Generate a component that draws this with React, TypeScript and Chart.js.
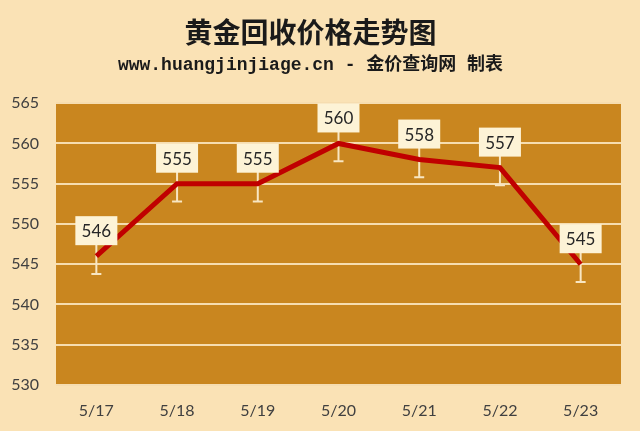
import React, { useEffect, useRef } from "react";
import { Chart, registerables } from "chart.js";

Chart.register(...registerables);

const dates = ["5/17", "5/18", "5/19", "5/20", "5/21", "5/22", "5/23"];
const prices = [546, 555, 555, 560, 558, 557, 545];
const errDown = [2.2, 2.2, 2.2, 2.2, 2.2, 2.2, 2.2];

const title = "黄金回收价格走势图";
const subtitle = "www.huangjinjiage.cn - 金价查询网 制表";

const FONT = "Lato, 'Open Sans', 'Noto Sans', sans-serif";

// orange plot background
const plotBg = {
  id: "plotBg",
  beforeDraw(chart: any) {
    const { ctx, chartArea } = chart;
    ctx.save();
    ctx.fillStyle = "#c9861f";
    ctx.fillRect(chartArea.left, chartArea.top, chartArea.right - chartArea.left, chartArea.bottom - chartArea.top);
    ctx.restore();
  },
};

// error bars behind the line, value boxes on top
const errorBars = {
  id: "errorBars",
  beforeDatasetsDraw(chart: any) {
    const { ctx } = chart;
    const y = chart.scales.y;
    const meta = chart.getDatasetMeta(0);
    ctx.save();
    ctx.strokeStyle = "#f8e6c2";
    ctx.lineWidth = 2;
    meta.data.forEach((pt: any, i: number) => {
      const top = y.getPixelForValue(prices[i] + errDown[i]);
      const bot = y.getPixelForValue(prices[i] - errDown[i]);
      ctx.beginPath();
      ctx.moveTo(pt.x, top);
      ctx.lineTo(pt.x, bot);
      ctx.moveTo(pt.x - 5, bot);
      ctx.lineTo(pt.x + 5, bot);
      ctx.stroke();
    });
    ctx.restore();
  },
  afterDatasetsDraw(chart: any) {
    const { ctx } = chart;
    const meta = chart.getDatasetMeta(0);
    ctx.save();
    ctx.font = "17px " + FONT;
    ctx.textAlign = "center";
    ctx.textBaseline = "middle";
    meta.data.forEach((pt: any, i: number) => {
      const w = 42;
      const h = 29;
      const bx = pt.x - w / 2;
      const by = pt.y - 11 - h;
      ctx.fillStyle = "#fdf3d6";
      ctx.fillRect(bx, by, w, h);
      ctx.fillStyle = "#262626";
      ctx.fillText(String(prices[i]), pt.x, by + h / 2 + 1);
    });
    ctx.restore();
  },
};

const App: React.FC = () => {
  const canvasRef = useRef<HTMLCanvasElement | null>(null);
  const chartRef = useRef<Chart | null>(null);

  useEffect(() => {
    document.body.style.margin = "0";
    if (!canvasRef.current) return;
    if (chartRef.current) chartRef.current.destroy();

    chartRef.current = new Chart(canvasRef.current, {
      type: "line",
      data: {
        labels: dates,
        datasets: [
          {
            label: "价格",
            data: prices,
            borderColor: "#c00000",
            borderWidth: 5,
            pointRadius: 0,
            tension: 0,
            fill: false,
          },
        ],
      },
      options: {
        responsive: true,
        maintainAspectRatio: false,
        animation: false,
        layout: { padding: { left: 0, right: 19, top: 0, bottom: 0 } },
        plugins: {
          legend: { display: false },
          tooltip: { enabled: false },
          title: {
            display: true,
            text: title,
            color: "#1a1a1a",
            font: { family: "'Noto Sans CJK SC'", size: 28, weight: "bold", lineHeight: 1.2 },
            padding: { top: 16, bottom: 5 },
          },
          subtitle: {
            display: true,
            text: subtitle,
            color: "#1a1a1a",
            font: { family: "'Liberation Mono', 'Noto Sans CJK SC'", size: 18, weight: "bold", lineHeight: 1.2 },
            padding: { top: 0, bottom: 27 },
          },
        },
        scales: {
          x: {
            offset: true,
            grid: { display: false, drawTicks: false },
            border: { display: false },
            ticks: { color: "#404040", font: { family: FONT, size: 16 }, padding: 16 },
            afterFit: (s: any) => {
              s.height = 46;
            },
          },
          y: {
            min: 530,
            max: 565,
            grid: { color: "#f6ddb0", lineWidth: 2, drawTicks: false },
            border: { display: false },
            ticks: { stepSize: 5, color: "#404040", font: { family: FONT, size: 16 }, padding: 17 },
            afterFit: (s: any) => {
              s.width = 56;
            },
          },
        },
      },
      plugins: [plotBg, errorBars],
    });

    return () => {
      if (chartRef.current) {
        chartRef.current.destroy();
        chartRef.current = null;
      }
    };
  }, []);

  return (
    <div style={{ position: "relative", width: "640px", height: "431px", background: "#fae2b5" }}>
      <canvas ref={canvasRef} />
    </div>
  );
};

export default App;
